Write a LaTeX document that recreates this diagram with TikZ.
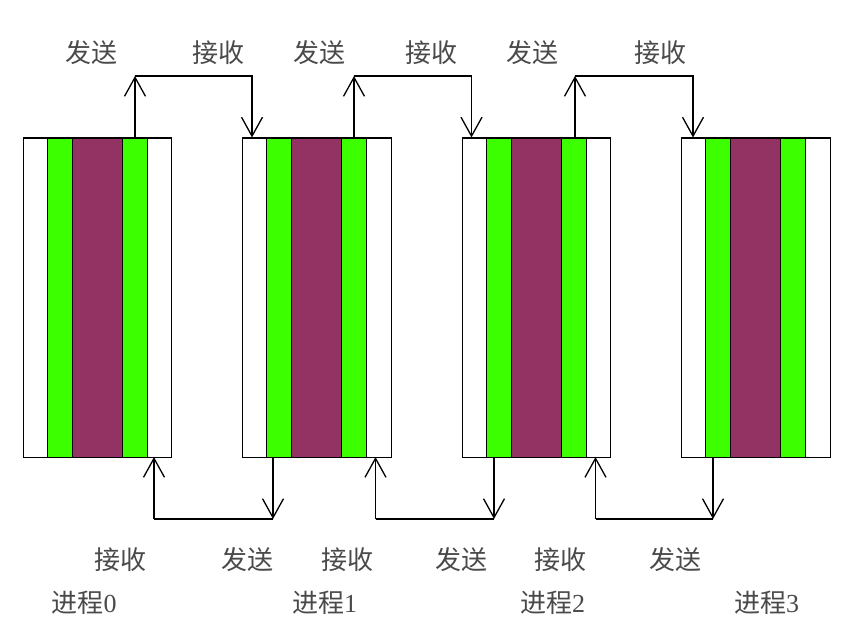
\documentclass[tikz,border=0pt]{standalone}
\usepackage{fontspec}
\setmainfont{Liberation Serif}
\newfontfamily\cjk{Noto Sans CJK SC}
\usetikzlibrary{arrows.meta}
\definecolor{bargreen}{HTML}{3CFF00}
\definecolor{barpurple}{HTML}{933363}
\definecolor{txtgray}{HTML}{4A4A4A}
\begin{document}
\begin{tikzpicture}[x=1pt,y=-1pt,
  lbl/.style={text=txtgray,font=\fontsize{26}{28}\selectfont\cjk,inner sep=0pt},
  procbox/.style={draw=black,line width=1.2pt,minimum width=148.5pt,minimum height=319.5pt,inner sep=0pt,anchor=north west},
  strip/.style={draw=black,line width=0.8pt},
  arr/.style={line width=1.3pt,-{Straight Barb[length=19pt,width=21pt,line width=1.3pt]}},
  seg/.style={line width=1.3pt}]
\useasboundingbox (0,0) rectangle (855,636);
\fill[white] (0,0) rectangle (855,636);
% process boxes
\foreach \i/\L in {0/22.5,1/242,2/461.5,3/681}{
  \fill[bargreen,strip] (\L+24.5,137.5) rectangle (\L+49.5,457);
  \fill[barpurple,strip] (\L+49.5,137.5) rectangle (\L+99.5,457);
  \fill[bargreen,strip] (\L+99.5,137.5) rectangle (\L+124.5,457);
  \node[procbox] (p\i) at (\L,137.5) {};
}
% top connectors
\coordinate (ts0) at (135,137.5);   \coordinate (tc0) at (135,76);  \coordinate (tr1) at (252,137.5);
\coordinate (ts1) at (354,137.5);   \coordinate (tc1) at (354,76);  \coordinate (tr2) at (471.5,137.5);
\coordinate (ts2) at (575,137.5);   \coordinate (tc2) at (575,76);  \coordinate (tr3) at (693,137.5);
\foreach \a/\b in {0/1,1/2,2/3}{
  \draw[arr] (ts\a) -- (tc\a);
  \draw[arr] (tc\a) -| (tr\b);
}
% bottom connectors
\coordinate (bs1) at (273,457);  \coordinate (bc0) at (154,519);  \coordinate (br0) at (154,457);
\coordinate (bs2) at (494,457);  \coordinate (bc1) at (375.5,519);  \coordinate (br1) at (375.5,457);
\coordinate (bs3) at (713,457);  \coordinate (bc2) at (595.5,519);  \coordinate (br2) at (595.5,457);
\foreach \a/\b in {1/0,2/1,3/2}{
  \draw[arr] (bs\a) -- (bs\a |- bc\b);
  \draw[seg] (bs\a |- bc\b) -- (bc\b);
  \draw[arr] (bc\b) -- (br\b);
}
% labels top
\node[lbl] (t1) at (91.5,52.5) {发送};
\node[lbl] (t2) at (218.5,52.5) {接收};
\node[lbl] (t3) at (319.5,52.5) {发送};
\node[lbl] (t4) at (431,52.5) {接收};
\node[lbl] (t5) at (532,52.5) {发送};
\node[lbl] (t6) at (660,52.5) {接收};
% labels bottom
\node[lbl] (b1) at (120,560) {接收};
\node[lbl] (b2) at (247.5,560) {发送};
\node[lbl] (b3) at (347.5,560) {接收};
\node[lbl] (b4) at (461.5,560) {发送};
\node[lbl] (b5) at (560,560) {接收};
\node[lbl] (b6) at (675,560) {发送};
% process names
\node[lbl] (n0) at (84,602.5) {进程{\rmfamily 0}};
\node[lbl] (n1) at (324.5,602.5) {进程{\rmfamily 1}};
\node[lbl] (n2) at (552.5,602.5) {进程{\rmfamily 2}};
\node[lbl] (n3) at (766.5,602.5) {进程{\rmfamily 3}};
\end{tikzpicture}
\end{document}
